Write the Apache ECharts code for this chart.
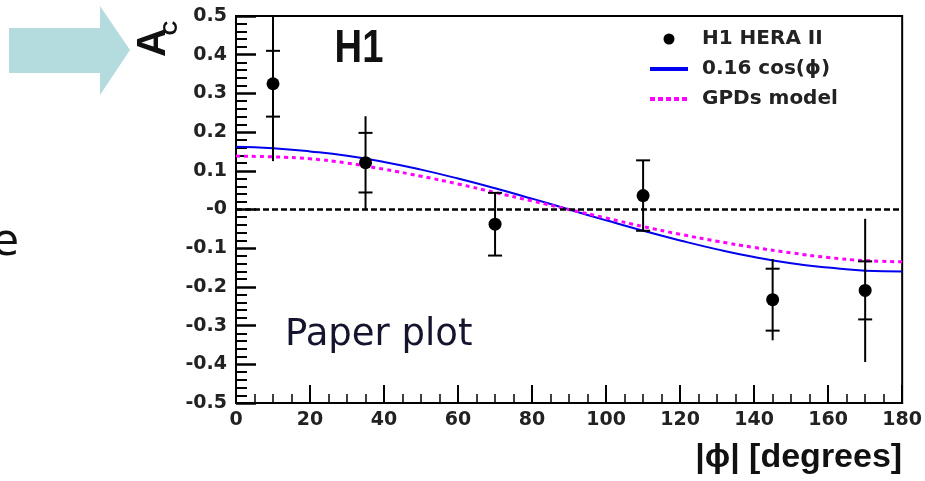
<!DOCTYPE html>
<html>
<head>
<meta charset="utf-8">
<script src="https://cdn.jsdelivr.net/npm/echarts@6/dist/echarts.min.js"></script>
<style>
  html, body { margin: 0; padding: 0; background: #fff; }
  #chart { width: 925px; height: 481px; }
</style>
</head>
<body>
<div id="chart"></div>
<script>
// Beam-charge asymmetry A_C versus |phi|, H1 HERA II measurement
const phiPoints  = [10, 35, 70, 110, 145, 170];
const acValues   = [0.325, 0.121, -0.038, 0.036, -0.233, -0.209];
const statErrors = [0.085, 0.077, 0.081, 0.091, 0.080, 0.075];
const totalErrors = [0.200, 0.120, 0.081, 0.091, 0.105, 0.185];

// Curves sampled every 10 degrees
const phiGrid   = [0, 10, 20, 30, 40, 50, 60, 70, 80, 90, 100, 110, 120, 130, 140, 150, 160, 170, 180];
const cosFit    = [0.162, 0.158, 0.150, 0.139, 0.123, 0.103, 0.080, 0.055, 0.028, 0.000,
                   -0.028, -0.055, -0.080, -0.103, -0.123, -0.139, -0.150, -0.158, -0.160];
const gpdsModel = [0.138, 0.136, 0.131, 0.120, 0.104, 0.086, 0.066, 0.044, 0.022, 0.000,
                   -0.022, -0.044, -0.064, -0.082, -0.098, -0.112, -0.124, -0.132, -0.135];

// Axis tick labels
const xTickLabels = ['0', '20', '40', '60', '80', '100', '120', '140', '160', '180'];
const yTickLabels = ['-0.5', '-0.4', '-0.3', '-0.2', '-0.1', '-0', '0.1', '0.2', '0.3', '0.4', '0.5'];

const X_MIN = 0, X_MAX = 180, X_STEP = 20;
const Y_MIN = -0.5, Y_MAX = 0.5, Y_STEP = 0.1;

const seriesNames = ['H1 HERA II', '0.16 cos(\u03d5)', 'GPDs model'];

const tickFont = { fontFamily: 'DejaVu Sans', fontWeight: 'bold', fontSize: 19, color: '#222' };

const chart = echarts.init(document.getElementById('chart'), null, { renderer: 'canvas' });

const errorRows = phiPoints.map((x, i) => [x, acValues[i], statErrors[i], totalErrors[i]]);

function renderErrorBar(params, api) {
  const x = api.value(0), y = api.value(1), st = api.value(2), tot = api.value(3);
  const top = api.coord([x, y + tot]);
  const bot = api.coord([x, y - tot]);
  const sHi = api.coord([x, y + st]);
  const sLo = api.coord([x, y - st]);
  const half = 7;
  const style = { stroke: '#000', lineWidth: 2 };
  return {
    type: 'group',
    children: [
      { type: 'line', shape: { x1: top[0], y1: top[1], x2: bot[0], y2: bot[1] }, style },
      { type: 'line', shape: { x1: sHi[0] - half, y1: sHi[1], x2: sHi[0] + half, y2: sHi[1] }, style },
      { type: 'line', shape: { x1: sLo[0] - half, y1: sLo[1], x2: sLo[0] + half, y2: sLo[1] }, style }
    ]
  };
}

// line entries in the legend show only the stroke, no point marker
const hiddenMarker = { color: 'rgba(0,0,0,0)', borderColor: 'rgba(0,0,0,0)', borderWidth: 0, opacity: 0 };

const option = {
  backgroundColor: '#fff',
  animation: false,
  grid: {
    left: 236, top: 16, width: 667, height: 387,
    show: true, borderColor: '#000', borderWidth: 2, backgroundColor: 'transparent'
  },
  legend: {
    orient: 'vertical',
    left: 643, top: 23,
    itemWidth: 38, itemHeight: 11, itemGap: 8,
    data: [
      { name: seriesNames[0], icon: 'circle', itemStyle: { color: '#000', opacity: 1 } },
      { name: seriesNames[1], itemStyle: hiddenMarker, lineStyle: { color: '#0000ee', width: 4 } },
      { name: seriesNames[2], itemStyle: hiddenMarker, lineStyle: { color: '#ff00ff', width: 4, type: [5, 3] } }
    ],
    textStyle: {
      fontFamily: 'DejaVu Sans', fontWeight: 'bold', fontSize: 20, color: '#222',
      lineHeight: 22, padding: [0, 0, 0, 9]
    }
  },
  xAxis: {
    type: 'value', min: X_MIN, max: X_MAX, interval: X_STEP,
    name: '|\u03d5| [degrees]',
    nameLocation: 'end', nameGap: 0,
    nameTextStyle: {
      fontFamily: 'Liberation Sans', fontWeight: 'bold', fontSize: 34, color: '#111',
      align: 'right', verticalAlign: 'top', padding: [38, 0, 0, 0]
    },
    axisLine: { show: true, onZero: false, lineStyle: { color: '#000', width: 2 } },
    axisTick: { show: true, inside: true, length: 18, lineStyle: { color: '#000', width: 2 } },
    minorTick: { show: true, splitNumber: 4, length: 9, lineStyle: { color: '#000', width: 1.5 } },
    splitLine: { show: false },
    axisLabel: Object.assign({
      margin: 8,
      formatter: v => xTickLabels[Math.round((v - X_MIN) / X_STEP)]
    }, tickFont)
  },
  yAxis: {
    type: 'value', min: Y_MIN, max: Y_MAX, interval: Y_STEP,
    axisLine: { show: true, onZero: false, lineStyle: { color: '#000', width: 2 } },
    axisTick: { show: true, inside: true, length: 20, lineStyle: { color: '#000', width: 2.5 } },
    minorTick: { show: true, splitNumber: 5, length: 11, lineStyle: { color: '#000', width: 2 } },
    splitLine: { show: false },
    axisLabel: Object.assign({
      margin: 9,
      formatter: v => yTickLabels[Math.round((v - Y_MIN) / Y_STEP)]
    }, tickFont)
  },
  series: [
    {
      name: seriesNames[1],
      type: 'line',
      smooth: true,
      showSymbol: false,
      symbol: 'none',
      data: phiGrid.map((x, i) => [x, cosFit[i]]),
      lineStyle: { color: '#0000ee', width: 2 },
      itemStyle: { color: '#0000ee' },
      z: 3
    },
    {
      name: seriesNames[2],
      type: 'line',
      smooth: true,
      showSymbol: false,
      symbol: 'none',
      data: phiGrid.map((x, i) => [x, gpdsModel[i]]),
      lineStyle: { color: '#ff00ff', width: 3, type: [4, 4] },
      itemStyle: { color: '#ff00ff' },
      z: 3
    },
    {
      name: 'errors',
      type: 'custom',
      clip: true,
      renderItem: renderErrorBar,
      data: errorRows,
      z: 4
    },
    {
      name: seriesNames[0],
      type: 'scatter',
      symbol: 'circle',
      symbolSize: 13,
      data: phiPoints.map((x, i) => [x, acValues[i]]),
      itemStyle: { color: '#000', opacity: 1 },
      z: 5,
      markLine: {
        silent: true,
        symbol: 'none',
        label: { show: false },
        lineStyle: { color: '#000', width: 2.5, type: [6, 3] },
        data: [{ yAxis: 0 }]
      }
    }
  ],
  graphic: [
    // arrow pointing at the asymmetry axis
    {
      type: 'polygon',
      shape: { points: [[9, 28], [100, 28], [100, 6], [130, 50], [100, 95], [100, 73], [9, 73]] },
      style: { fill: '#b4dcde' }
    },
    {
      type: 'text', x: 19, y: 244,
      style: { text: 'e', fontFamily: 'DejaVu Sans', fontSize: 44, fill: '#111', align: 'right', verticalAlign: 'middle' }
    },
    // axis title A_C, rotated
    {
      type: 'text', x: 154, y: 42.5, rotation: Math.PI / 2,
      style: { text: 'A', fontFamily: 'Liberation Sans', fontWeight: 'bold', fontSize: 40, fill: '#111', align: 'center', verticalAlign: 'middle' }
    },
    {
      type: 'text', x: 171, y: 28, rotation: Math.PI / 2,
      style: { text: 'C', fontFamily: 'Liberation Sans', fontWeight: 'bold', fontSize: 20, fill: '#111', align: 'center', verticalAlign: 'middle' }
    },
    {
      type: 'text', x: 359, y: 49, scaleX: 0.83,
      style: { text: 'H1', fontFamily: 'Liberation Sans', fontWeight: 'bold', fontSize: 46, fill: '#111', align: 'center', verticalAlign: 'middle' }
    },
    {
      type: 'text', x: 285, y: 335,
      style: { text: 'Paper plot', fontFamily: 'DejaVu Sans', fontSize: 37, fill: '#14142e', align: 'left', verticalAlign: 'middle' }
    }
  ]
};

chart.setOption(option);
</script>
</body>
</html>
